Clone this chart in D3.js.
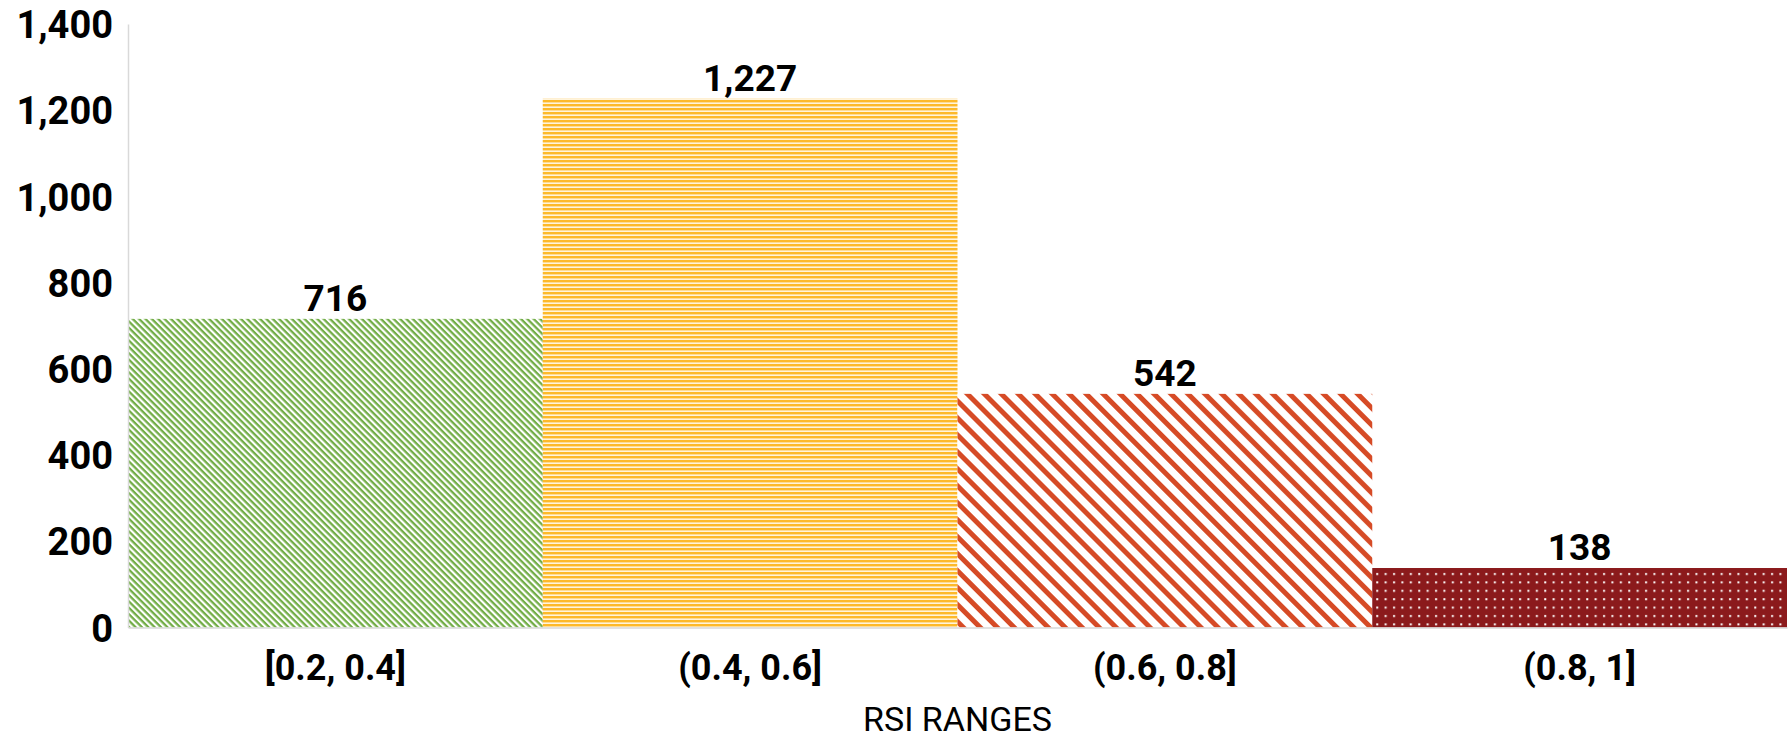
<!DOCTYPE html>
<html>
<head>
<meta charset="utf-8">
<script src="https://cdn.jsdelivr.net/npm/d3@7"></script>
<style>
  html, body { margin: 0; padding: 0; background: #ffffff; }
  svg { display: block; font-family: Roboto, "Liberation Sans", Arial, sans-serif; }
</style>
</head>
<body>
<svg id="chart" width="1791" height="741"></svg>
<script>
const categories = ["[0.2, 0.4]", "(0.4, 0.6]", "(0.6, 0.8]", "(0.8, 1]"];
const values = [716, 1227, 542, 138];
const yTicks = [0, 200, 400, 600, 800, 1000, 1200, 1400];
const xTitle = "RSI RANGES";

const W = 1791, H = 741;
const margin = { left: 128, right: 4, top: 24, bottom: 113.5 };
const svg = d3.select("#chart");

const x = d3.scaleBand().domain(categories).range([margin.left, W - margin.right]).padding(0);
const y = d3.scaleLinear().domain([0, 1400]).range([H - margin.bottom, margin.top]);

// patterns
const defs = svg.append("defs");
// green fine downward diagonal
const pg = defs.append("pattern").attr("id", "p0").attr("patternUnits", "userSpaceOnUse")
  .attr("width", 20).attr("height", 4.5).attr("patternTransform", "rotate(45)");
pg.append("rect").attr("width", 20).attr("height", 4.5).attr("fill", "#ffffff");
pg.append("rect").attr("width", 20).attr("height", 2.3).attr("fill", "#72ad47");
// yellow horizontal lines
const py = defs.append("pattern").attr("id", "p1").attr("patternUnits", "userSpaceOnUse")
  .attr("width", 20).attr("height", 4);
py.append("rect").attr("width", 20).attr("height", 4).attr("fill", "#fff4dc");
py.append("rect").attr("width", 20).attr("height", 2.4).attr("fill", "#fdb92a");
// orange wide downward diagonal
const po = defs.append("pattern").attr("id", "p2").attr("patternUnits", "userSpaceOnUse")
  .attr("width", 20).attr("height", 12).attr("patternTransform", "rotate(45)");
po.append("rect").attr("width", 20).attr("height", 12).attr("fill", "#ffffff");
po.append("rect").attr("width", 20).attr("height", 5).attr("fill", "#d64b26");
// dark red dotted
const pd = defs.append("pattern").attr("id", "p3").attr("patternUnits", "userSpaceOnUse")
  .attr("width", 8.4).attr("height", 8.4).attr("x", x(categories[3]) + 2).attr("y", y(138) + 3);
pd.append("rect").attr("width", 8.4).attr("height", 8.4).attr("fill", "#8b1a1c");
pd.append("rect").attr("x", 2).attr("y", 2).attr("width", 2).attr("height", 2).attr("fill", "#ffffff");

// bars
svg.append("g").selectAll("rect").data(values).join("rect")
  .attr("x", (d, i) => x(categories[i]))
  .attr("width", x.bandwidth())
  .attr("y", d => y(d))
  .attr("height", d => y(0) - y(d))
  .attr("fill", (d, i) => `url(#p${i})`);

// y axis
const yAxis = svg.append("g").attr("transform", `translate(${margin.left},0)`)
  .call(d3.axisLeft(y).tickValues(yTicks).tickFormat(d3.format(",")).tickSize(0).tickSizeOuter(0).tickPadding(15));
yAxis.select(".domain").attr("stroke", "#d9d9d9").attr("stroke-width", 1.5);
yAxis.selectAll("text").attr("font-size", 38).attr("font-weight", 700).attr("fill", "#000")
  .attr("font-family", "Roboto, 'Liberation Sans', Arial, sans-serif").attr("dy", "0.36em");

// x axis
const xAxis = svg.append("g").attr("transform", `translate(0,${y(0)})`)
  .call(d3.axisBottom(x).tickSize(0).tickSizeOuter(0));
xAxis.select(".domain").attr("stroke", "#d9d9d9").attr("stroke-width", 1.5);
xAxis.selectAll("text").attr("font-size", 36).attr("font-weight", 700).attr("fill", "#000")
  .attr("font-family", "Roboto, 'Liberation Sans', Arial, sans-serif")
  .attr("y", 52.5).attr("dy", 0);

// value labels
svg.append("g").selectAll("text").data(values).join("text")
  .attr("x", (d, i) => x(categories[i]) + x.bandwidth() / 2)
  .attr("y", d => y(d) - 8)
  .attr("text-anchor", "middle")
  .attr("font-size", 37).attr("font-weight", 700).attr("fill", "#000")
  .text(d => d3.format(",")(d));

// x title
svg.append("text")
  .attr("x", (margin.left + W - margin.right) / 2)
  .attr("y", 731)
  .attr("text-anchor", "middle")
  .attr("font-size", 34).attr("fill", "#000")
  .text(xTitle);
</script>
</body>
</html>
